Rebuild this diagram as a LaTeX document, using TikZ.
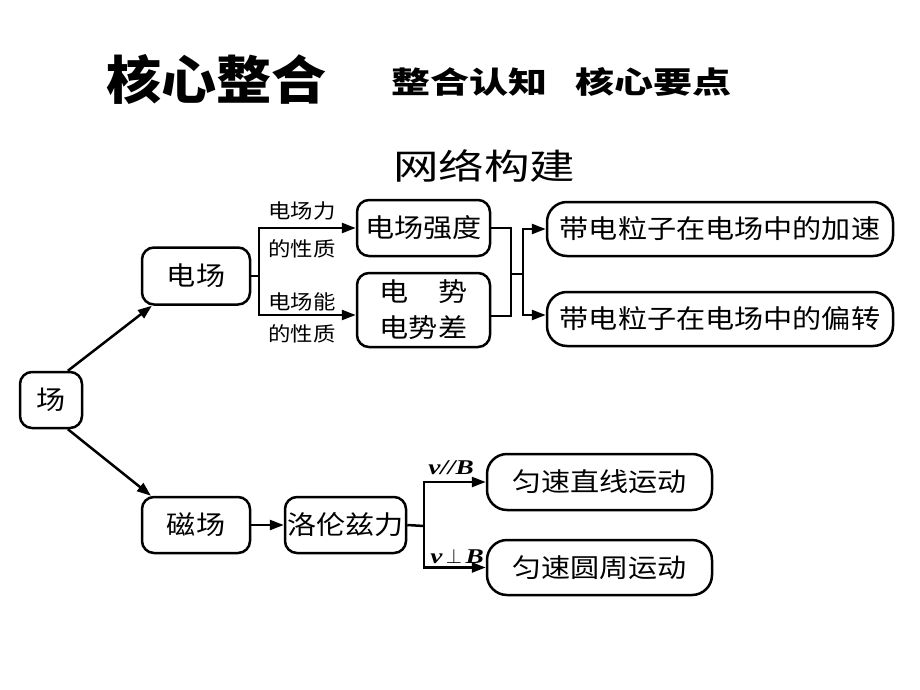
\documentclass[tikz,border=0pt]{standalone}
\usepackage{fontspec}
\setmainfont{Noto Sans CJK SC}
\newfontfamily\boxfont[FakeStretch=1.12]{Noto Sans CJK SC}
\newfontfamily\titlefont[FakeStretch=1.06]{Noto Sans CJK SC}
\newfontfamily\subfont[FakeStretch=1.3]{Noto Sans CJK SC}
\newfontfamily\vbfont[FakeStretch=1.3]{Liberation Serif}
\usetikzlibrary{arrows.meta,calc}
\begin{document}
\begin{tikzpicture}[x=1pt,y=-1pt,
  box/.style={draw,line width=2.5pt,rounded corners=12pt,inner sep=0pt,
    font=\boxfont\fontsize{26}{36}\selectfont},
  longbox/.style={box,rounded corners=20pt},
  lab/.style={inner sep=0pt,font=\boxfont\fontsize{20}{24}\selectfont},
  vlab/.style={inner sep=0pt,font=\vbfont\bfseries\itshape\fontsize{21}{24}\selectfont},
  conn/.style={line width=2.5pt},
  arr/.style={conn,-{Triangle[length=14pt,width=10pt]}}]
\fill[white] (0,0) rectangle (920,690);
\useasboundingbox (0,0) rectangle (920,690);

% titles
\node[anchor=west,inner sep=0pt,font=\titlefont\bfseries\fontsize{52}{60}\selectfont] (t1) at (106,79) {核心整合};
\node[anchor=west,inner sep=0pt,font=\subfont\bfseries\fontsize{30}{36}\selectfont] (t2) at (391,82) {整合认知};
\node[anchor=west,inner sep=0pt,font=\subfont\bfseries\fontsize{30}{36}\selectfont] (t3) at (575,82) {核心要点};
\node[anchor=west,inner sep=0pt,font=\subfont\fontsize{35}{40}\selectfont] (t4) at (393,166) {网络构建};

% boxes
\node[box,minimum width=62pt,minimum height=56pt] (chang) at (51,400) {场};
\node[box,minimum width=108pt,minimum height=57pt] (dianchang) at (196,276) {电场};
\node[box,minimum width=108pt,minimum height=56pt] (cichang) at (196,525) {磁场};
\node[box,minimum width=121pt,minimum height=56pt] (luolun) at (345.5,525) {洛伦兹力};
\node[box,minimum width=133pt,minimum height=56pt] (qiangdu) at (423.5,228) {电场强度};
\node[box,minimum width=133pt,minimum height=74pt,align=center] (dianshi) at (423.5,310) {电\hspace{29.12pt}势\\电势差};
\node[longbox,minimum width=346pt,minimum height=54pt] (jiasu) at (720,229) {带电粒子在电场中的加速};
\node[longbox,minimum width=346pt,minimum height=54pt] (pianzhuan) at (720,319) {带电粒子在电场中的偏转};
\node[longbox,minimum width=225pt,minimum height=56pt] (zhixian) at (599.5,482) {匀速直线运动};
\node[longbox,minimum width=225pt,minimum height=55pt] (yuanzhou) at (599.5,567.5) {匀速圆周运动};

% labels
\node[lab] (l1) at (302,211) {电场力};
\node[lab] (l2) at (302,249) {的性质};
\node[lab] (l3) at (302,302) {电场能};
\node[lab] (l4) at (302,334) {的性质};
\node[vlab] (vpar) at (451,468) {v//B};
\node[vlab] (vperp) at (457,556) {v\,$\perp$\,B};

% junctions
\coordinate (j1) at (259,276);
\coordinate (j2) at (511,274);
\coordinate (j3) at (523,274);
\coordinate (j4) at (424,526);

% connectors
\draw[arr] (chang.60) -- (dianchang.214);
\draw[arr] (chang.-60) -- (cichang.147);
\draw[conn] (dianchang.east) -- (j1);
\draw[arr] (j1) |- (qiangdu.west);
\draw[arr] (j1) |- ($(dianshi.west)+(0,5)$);
\draw[conn] (qiangdu.east) -| (j2);
\draw[conn] ($(dianshi.east)+(0,6)$) -| (j2);
\draw[conn] (j2) -- (j3);
\draw[arr] (j3) |- (jiasu.west);
\draw[arr] (j3) |- ($(pianzhuan.west)+(0,-4)$);
\draw[arr] (cichang.east) -- (luolun.west);
\draw[conn] (luolun.east) -- (j4);
\draw[arr] (j4) |- (zhixian.west);
\draw[arr] (j4) |- (yuanzhou.west);
\end{tikzpicture}
\end{document}
